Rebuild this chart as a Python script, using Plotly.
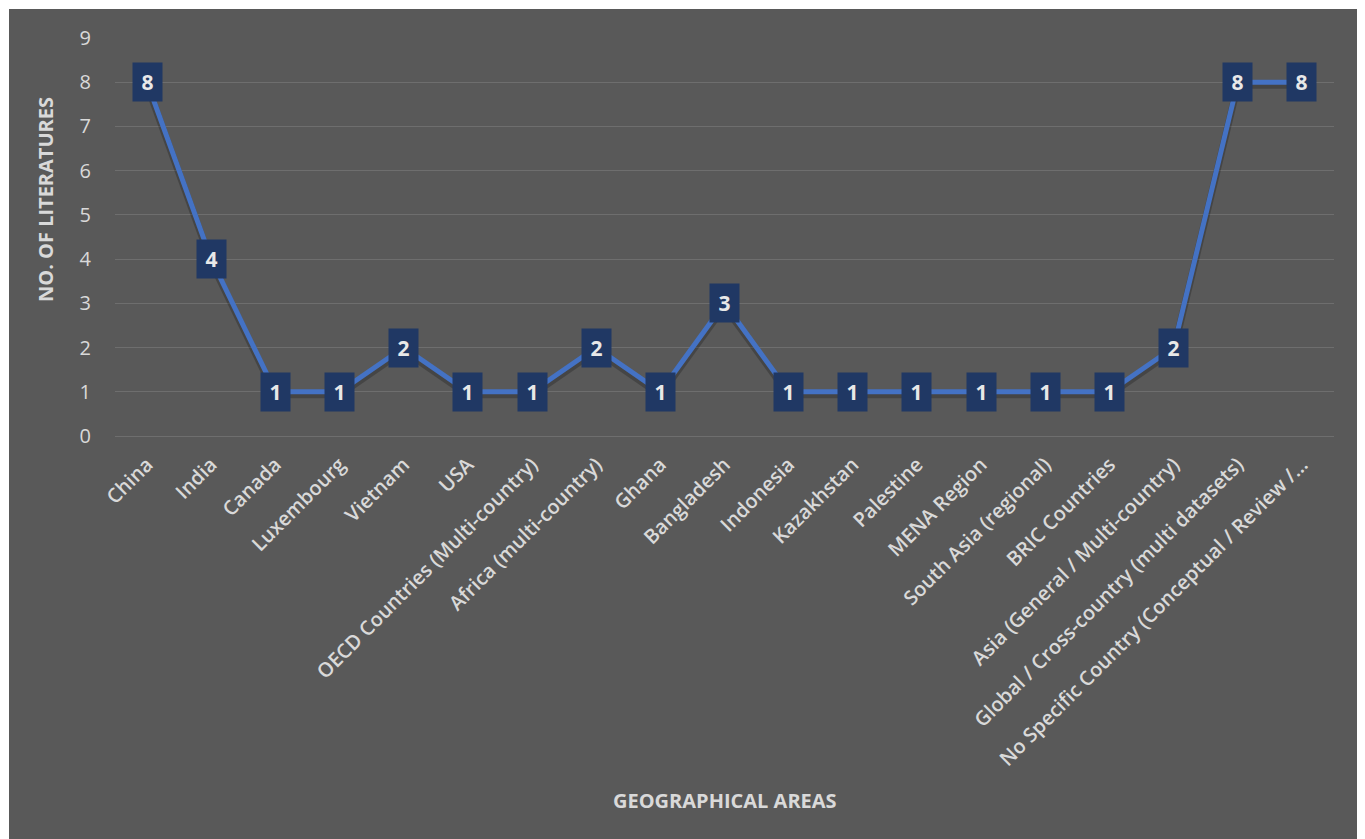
import plotly.graph_objects as go

categories = ["China", "India", "Canada", "Luxembourg", "Vietnam", "USA",
              "OECD Countries (Multi-country)", "Africa (multi-country)", "Ghana",
              "Bangladesh", "Indonesia", "Kazakhstan", "Palestine", "MENA Region",
              "South Asia (regional)", "BRIC Countries", "Asia (General / Multi-country)",
              "Global / Cross-country (multi datasets)",
              "No Specific Country (Conceptual / Review /\u2026"]
values = [8, 4, 1, 1, 2, 1, 1, 2, 1, 3, 1, 1, 1, 1, 1, 1, 2, 8, 8]
y_ticks = list(range(0, 10))

OFF = 8  # page body margin
W, H = 1365 - OFF, 839 - OFF
L, R, T, B = 115 - OFF, 31, 38 - OFF, 403
pw, ph = W - L - R, H - T - B

BG = "#595959"
TXT = "#d9d9d9"
GRID = "#6e6e6e"
LINE = "#4472c4"
BOX = "#203864"
FONT = "Open Sans"

fig = go.Figure()

fig.add_trace(go.Scatter(
    x=categories, y=[v - 0.07 for v in values], mode="lines",
    line=dict(color="rgba(0,0,0,0.22)", width=7), hoverinfo="skip", showlegend=False))

fig.add_trace(go.Scatter(
    x=categories, y=values, mode="lines",
    line=dict(color=LINE, width=5), showlegend=False))

annotations = []
for c, v in zip(categories, values):
    annotations.append(dict(
        x=c, y=v, xref="x", yref="y", text=f"<b>{v}</b>", showarrow=False,
        font=dict(family=FONT, size=21, color="#e8e8e8"),
        bgcolor=BOX, width=29, height=38, borderpad=0,
        xanchor="center", yanchor="middle"))

annotations.append(dict(
    x=(725 - OFF - L) / pw, y=(H + OFF - B - 800) / ph, xref="paper", yref="paper",
    text="<b>GEOGRAPHICAL AREAS</b>", showarrow=False,
    font=dict(family=FONT, size=20, color=TXT), xanchor="center", yanchor="middle"))
annotations.append(dict(
    x=(45 - OFF - L) / pw, y=(H + OFF - B - 200) / ph, xref="paper", yref="paper",
    text="<b>NO. OF LITERATURES</b>", showarrow=False, textangle=-90,
    font=dict(family=FONT, size=20, color=TXT), xanchor="center", yanchor="middle"))

fig.update_layout(
    width=W, height=H,
    margin=dict(l=L, r=R, t=T, b=B, autoexpand=False),
    paper_bgcolor="white", plot_bgcolor="rgba(0,0,0,0)",
    font=dict(family=FONT, color=TXT),
    annotations=annotations,
    shapes=[dict(type="rect", xref="paper", yref="paper",
                 x0=(9 - OFF - L) / pw, x1=(W - L) / pw + 0.01,
                 y0=-B / ph - 0.01, y1=1 + (T - 1) / ph,
                 fillcolor=BG, line=dict(width=0), layer="below")],
    xaxis=dict(type="category", categoryorder="array", categoryarray=categories,
               range=[-0.5, len(categories) - 0.5],
               tickangle=-45, showgrid=False, zeroline=False, showline=False,
               ticks="", ticklabelstandoff=12,
               tickfont=dict(family=FONT, size=20, color=TXT, weight=600),
               automargin=False),
    yaxis=dict(range=[0, 9], tickvals=y_ticks, showgrid=True, gridcolor=GRID,
               gridwidth=1, zeroline=True, zerolinecolor=GRID, zerolinewidth=1,
               showline=False, ticks="", ticklabelstandoff=23,
               tickfont=dict(family=FONT, size=20, color=TXT), automargin=False),
)

fig.write_html("out.html")
